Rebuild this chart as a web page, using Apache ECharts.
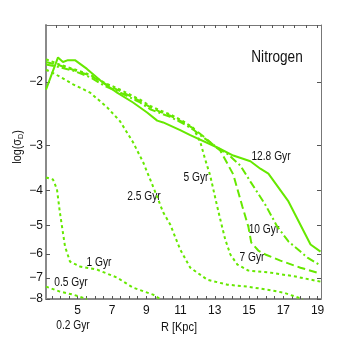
<!DOCTYPE html>
<html>
<head>
<meta charset="utf-8">
<script src="https://cdn.jsdelivr.net/npm/echarts@6/dist/echarts.min.js"></script>
<style>
    html, body { margin: 0; padding: 0; background: #fff; }
    #main { width: 354px; height: 338px; }
</style>
</head>
<body>
<div id="main"></div>
<script>
    var green = '#66e800';
    var font = '"Liberation Sans", Arial, sans-serif';

    var xTickLabels = [5, 7, 9, 11, 13, 15, 17, 19];
    var xMinorTicks = [3.5, 4, 4.5, 5, 5.5, 6, 6.5, 7, 7.5, 8, 8.5, 9, 9.5, 10, 10.5, 11, 11.5, 12, 12.5, 13, 13.5, 14, 14.5, 15, 15.5, 16, 16.5, 17, 17.5, 18, 18.5, 19];
    var xTopTicks = [3.77, 4.43, 5.09, 5.75, 6.41, 7.08, 7.74, 8.40, 9.06, 9.72, 10.38, 11.04, 11.70, 12.36, 13.03, 13.69, 14.35, 15.01, 15.67, 16.33, 16.99, 17.65, 18.31, 18.98];
    var yTickLabels = [-2, -3, -4, -5, -6, -7, -8];

    // [R (Kpc), log(sigma_D)]
    var gyr128 = [[3.15, -2.10], [3.85, -1.71], [4.14, -1.76], [4.43, -1.74], [4.84, -1.74], [5.54, -1.84], [6.48, -2.01], [7.30, -2.14], [8.23, -2.28], [9.05, -2.43], [9.64, -2.56], [9.99, -2.59], [10.98, -2.72], [11.57, -2.81], [13.15, -3.04], [14.08, -3.20], [15.08, -3.32], [15.66, -3.48], [16.13, -3.59], [17.30, -4.29], [18.59, -5.65], [19.17, -5.91]];
    var gyr10 = [[3.15, -1.79], [3.96, -1.82], [4.73, -1.86], [5.72, -1.94], [6.48, -2.04], [7.65, -2.16], [8.64, -2.28], [9.23, -2.38], [9.81, -2.44], [10.40, -2.50], [11.16, -2.61], [11.74, -2.71], [12.33, -2.85], [13.15, -3.04], [13.79, -3.18], [14.49, -3.41], [15.08, -3.78], [15.95, -4.38], [16.65, -5.04], [17.30, -5.54], [18.00, -5.91], [18.41, -6.14], [19.17, -6.46]];
    var gyr7 = [[3.15, -1.76], [3.96, -1.80], [4.73, -1.85], [5.72, -1.92], [6.48, -2.01], [7.65, -2.14], [8.64, -2.26], [9.23, -2.35], [9.81, -2.42], [10.40, -2.48], [11.16, -2.59], [11.74, -2.69], [12.33, -2.83], [13.02, -3.02], [13.32, -3.10], [14.08, -3.61], [14.61, -4.43], [14.96, -5.04], [15.13, -5.58], [15.54, -5.87], [15.95, -6.02], [16.83, -6.26], [18.00, -6.55], [19.17, -6.80]];
    var gyr5 = [[3.15, -1.73], [3.96, -1.79], [4.73, -1.84], [5.72, -1.91], [6.48, -2.00], [7.65, -2.12], [8.64, -2.24], [9.23, -2.33], [9.81, -2.40], [10.40, -2.46], [11.16, -2.57], [11.74, -2.68], [12.16, -2.94], [12.44, -3.28], [12.73, -3.63], [13.09, -4.32], [13.32, -4.81], [13.61, -5.47], [13.91, -6.02], [14.32, -6.42], [14.96, -6.67], [16.25, -6.76], [17.71, -6.93], [19.17, -7.16]];
    var gyr25 = [[3.15, -1.85], [3.67, -1.90], [4.73, -2.03], [5.72, -2.14], [6.71, -2.35], [7.47, -2.57], [8.23, -2.94], [8.82, -3.34], [9.40, -3.90], [9.99, -4.60], [10.40, -4.97], [10.98, -5.83], [11.57, -6.55], [12.56, -7.07], [13.73, -7.30], [14.90, -7.39], [16.07, -7.54], [17.01, -7.68], [18.12, -8.00]];
    var gyr1 = [[3.15, -3.68], [3.56, -3.73], [3.79, -3.97], [3.96, -4.60], [4.26, -5.72], [4.55, -6.30], [5.13, -6.50], [6.13, -6.63], [7.30, -6.98], [8.23, -7.44], [9.40, -7.78], [9.81, -8.00]];
    var gyr05 = [[3.15, -7.39], [3.96, -7.63], [4.73, -7.78], [5.54, -8.00]];

    var toMag = function(list) {
        return list.map(function(p) { return [p[0], -p[1]]; });
    };
    var mkSeries = function(name, list, dash, width) {
        return {
            name: name,
            type: 'line',
            data: toMag(list),
            showSymbol: false,
            symbol: 'none',
            silent: true,
            clip: true,
            lineStyle: { color: green, width: width || 2, type: dash, cap: 'butt' }
        };
    };
    // narrow-looking annotation text
    var txt = function(s, x, y, size) {
        return {
            type: 'text', x: x, y: y, scaleX: 0.85,
            style: { text: s, fill: '#111', font: (size || 11) + 'px ' + font, align: 'center', verticalAlign: 'middle' }
        };
    };

    var myChart = echarts.init(document.getElementById('main'));
    var option = {
        animation: false,
        backgroundColor: '#fff',
        grid: { left: 46, right: 33, top: 25, bottom: 39 },
        xAxis: [{
            type: 'value', min: 3.15, max: 19.2, position: 'bottom',
            axisLine: { show: true, onZero: false, lineStyle: { color: '#8a8a8a', width: 2 } },
            axisTick: { show: true, inside: true, length: 3, customValues: xMinorTicks, lineStyle: { color: '#555', width: 1 } },
            axisLabel: { show: true, customValues: xTickLabels, margin: 6, color: '#111', fontSize: 12, fontFamily: font },
            splitLine: { show: false }
        }, {
            type: 'value', min: 3.15, max: 19.2, position: 'top',
            axisLine: { show: true, onZero: false, lineStyle: { color: '#777', width: 1 } },
            axisTick: { show: true, inside: true, length: 3, customValues: xTopTicks, lineStyle: { color: '#555', width: 1 } },
            axisLabel: { show: false },
            splitLine: { show: false }
        }],
        yAxis: [{
            type: 'log', logBase: 10, inverse: true, min: 1.39, max: 8, position: 'left',
            axisLine: { show: true, onZero: false, lineStyle: { color: '#8a8a8a', width: 2 } },
            axisTick: { show: true, inside: true, length: 4, customValues: yTickLabels.map(function(v) { return -v; }), lineStyle: { color: '#555', width: 1 } },
            axisLabel: {
                show: true, customValues: yTickLabels.map(function(v) { return -v; }), margin: 3,
                color: '#111', fontSize: 12, fontFamily: font,
                formatter: function(v) { return '\u2212' + Math.round(v); }
            },
            splitLine: { show: false }
        }, {
            type: 'log', logBase: 10, inverse: true, min: 1.39, max: 8, position: 'right',
            axisLine: { show: true, onZero: false, lineStyle: { color: '#777', width: 1 } },
            axisTick: { show: true, inside: true, length: 4, customValues: yTickLabels.map(function(v) { return -v; }), lineStyle: { color: '#555', width: 1 } },
            axisLabel: { show: false },
            splitLine: { show: false }
        }],
        series: [
            mkSeries('12.8 Gyr', gyr128, 'solid', 2),
            mkSeries('10 Gyr', gyr10, [8, 3, 2, 3], 2),
            mkSeries('7 Gyr', gyr7, [8, 4], 2),
            mkSeries('5 Gyr', gyr5, [3, 3], 2),
            mkSeries('2.5 Gyr', gyr25, [3, 3], 2),
            mkSeries('1 Gyr', gyr1, [3, 3], 2),
            mkSeries('0.5 Gyr', gyr05, [3, 3], 2)
        ],
        graphic: [
            txt('Nitrogen', 277, 58, 16),
            txt('12.8 Gyr', 271, 157, 12),
            txt('10 Gyr', 264, 230, 12),
            txt('7 Gyr', 252, 258, 12),
            txt('5 Gyr', 196, 178, 12),
            txt('2.5 Gyr', 144, 197, 12),
            txt('1 Gyr', 99, 263, 12),
            txt('0.5 Gyr', 71, 283, 12),
            txt('0.2 Gyr', 73, 326, 12),
            txt('R [Kpc]', 179, 327, 13),
            {
                type: 'text', x: 18, y: 147, rotation: Math.PI / 2, scaleX: 0.9,
                style: {
                    text: 'log(\u03c3{sub|D})', fill: '#111', font: '12px ' + font, align: 'center', verticalAlign: 'middle',
                    rich: { sub: { fontSize: 8, fontFamily: font, verticalAlign: 'bottom', padding: [6, 0, 0, 0] } }
                }
            }
        ]
    };
    myChart.setOption(option);
</script>
</body>
</html>
